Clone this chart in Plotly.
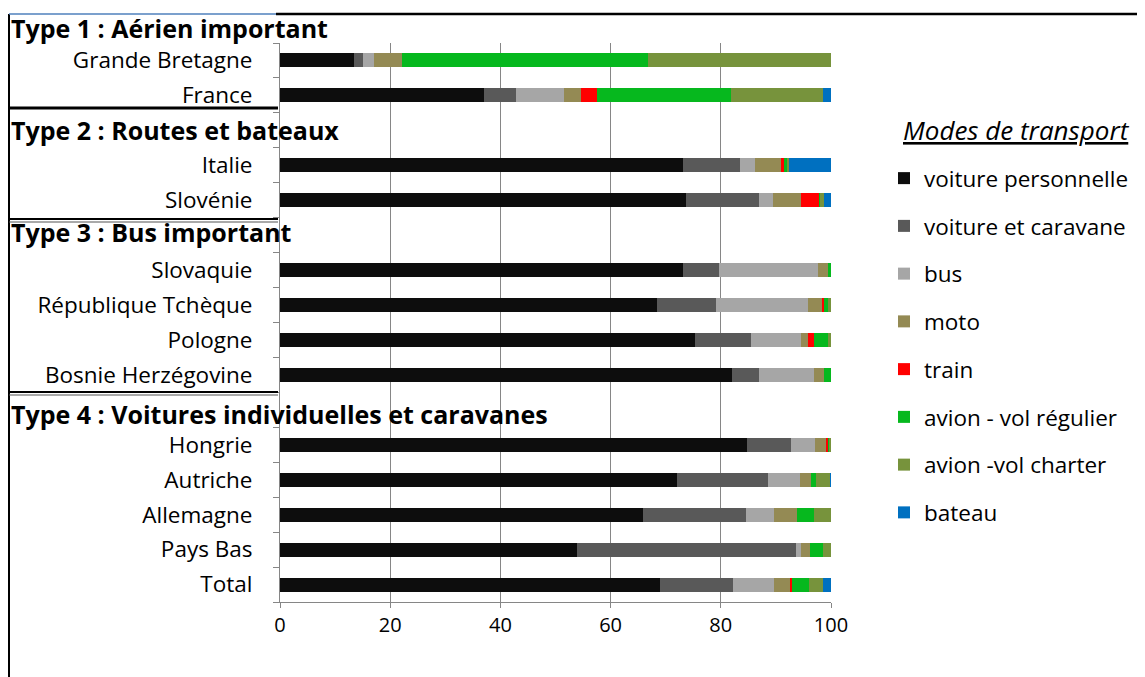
import plotly.graph_objects as go

# rows from top to bottom; header rows are empty slots between groups
countries = ["Grande Bretagne", "France", "Italie", "Slovénie", "Slovaquie",
             "République Tchèque", "Pologne", "Bosnie Herzégovine", "Hongrie",
             "Autriche", "Allemagne", "Pays Bas", "Total"]
groups = ["Type 1 : Aérien important", "Type 2 : Routes et bateaux",
          "Type 3 : Bus important", "Type 4 : Voitures individuelles et caravanes"]
group_sizes = [2, 2, 4, 5]

modes = ["voiture personnelle", "voiture et caravane", "bus", "moto", "train",
         "avion - vol régulier", "avion -vol charter", "bateau"]
voiture_perso = [13.5, 37.1, 73.1, 73.7, 73.1, 68.5, 75.3, 82.0, 84.7, 72.1, 65.8, 53.9, 68.9]
caravane = [1.6, 5.7, 10.4, 13.3, 6.5, 10.7, 10.2, 4.9, 8.1, 16.5, 18.7, 39.8, 13.4]
bus = [1.9, 8.7, 2.7, 2.5, 18.1, 16.6, 9.0, 10.1, 4.3, 5.8, 5.1, 0.8, 7.3]
moto = [5.2, 3.2, 4.8, 5.1, 1.8, 2.7, 1.3, 1.7, 2.1, 1.9, 4.2, 1.7, 3.1]
train = [0, 2.8, 0.4, 3.3, 0, 0.2, 1.1, 0, 0.3, 0, 0, 0, 0.3]
vol_regulier = [44.6, 24.3, 0.6, 0.1, 0.5, 0.8, 2.5, 1.3, 0.3, 0.9, 3.1, 2.3, 3.0]
vol_charter = [33.2, 16.7, 0.4, 0.7, 0, 0.5, 0.6, 0, 0.2, 2.7, 3.1, 1.5, 2.6]
bateau = [0, 1.5, 7.6, 1.3, 0, 0, 0, 0, 0, 0.1, 0, 0, 1.4]
series = [voiture_perso, caravane, bus, moto, train, vol_regulier, vol_charter, bateau]
colors = ["#0d0d0d", "#595959", "#a6a6a6", "#948a54", "#ff0000",
          "#06b81e", "#77933c", "#0070c0"]
x_ticks = [0, 20, 40, 60, 80, 100]

# build category list with blank header slots (not for the first group)
rows, labels, idx = [], [], 0
for g, n in enumerate(group_sizes):
    if g > 0:
        rows.append("_hdr%d" % g)
        labels.append("")
    for c in countries[idx:idx + n]:
        rows.append(c)
        labels.append(c)
    idx += n


def expand(vals):
    out, k = [], 0
    for r in rows:
        if r.startswith("_hdr"):
            out.append(None)
        else:
            out.append(vals[k])
            k += 1
    return out


FONT = "Open Sans"
OFF = 8  # page body margin
W, H = 1145 - OFF, 677 - OFF
# plot area in page pixels
L, R, T, B = 280, 831, 43, 602


def fx(p):
    return (p - L) / (R - L)


def fy(p):
    return (B - p) / (B - T)


fig = go.Figure()
for name, vals, col in zip(modes, series, colors):
    fig.add_trace(go.Bar(
        y=rows, x=expand(vals), name=name, orientation="h",
        marker=dict(color=col, line=dict(width=0)),
        width=0.4, legendgroup=name,
    ))

shapes = []


def line(x0, y0, x1, y1, color="black", width=2):
    shapes.append(dict(type="line", xref="paper", yref="paper",
                       x0=fx(x0), x1=fx(x1), y0=fy(y0), y1=fy(y1),
                       line=dict(color=color, width=width)))


line(9, 14, 9, 677, width=2)
line(9, 14, 276, 14, color="#4f81bd", width=1.5)
line(276, 14, 1145, 14, width=2.5)
line(9, 108, 278, 108, width=3)
line(9, 219, 278, 219, width=2)
line(9, 222, 278, 222, color="#555555", width=1)
line(9, 392, 278, 392, width=2)
line(9, 395, 278, 395, color="#555555", width=1)

annotations = []
for text, ypix in zip(groups, [28, 130, 232, 414]):
    annotations.append(dict(text="<b>" + text + "</b>", xref="paper", yref="paper",
                            x=fx(9), y=fy(ypix), xanchor="left", yanchor="middle",
                            showarrow=False, font=dict(family=FONT, size=25, color="black")))
annotations.append(dict(text="<i><u>Modes de transport</u></i>", xref="paper", yref="paper",
                        x=fx(901), y=fy(130), xanchor="left", yanchor="middle",
                        showarrow=False, font=dict(family=FONT, size=26, color="black")))

fig.update_layout(
    width=W, height=H,
    margin=dict(l=L - OFF, r=W - (R - OFF), t=T - OFF, b=H - (B - OFF), pad=0,
                autoexpand=False),
    barmode="stack",
    plot_bgcolor="white", paper_bgcolor="white",
    font=dict(family=FONT, size=20, color="black"),
    shapes=shapes, annotations=annotations,
    legend=dict(x=fx(884), y=fy(157), xanchor="left", yanchor="top",
                traceorder="grouped", tracegroupgap=15.5,
                font=dict(family=FONT, size=22.5, color="black"),
                bgcolor="rgba(0,0,0,0)"),
    xaxis=dict(range=[0, 100], tickvals=x_ticks, showgrid=True, gridcolor="#868686",
               gridwidth=1, zeroline=False, showline=True, linecolor="#868686",
               ticks="outside", ticklen=5, tickcolor="#868686",
               tickfont=dict(family=FONT, size=20, color="black")),
    yaxis=dict(categoryorder="array", categoryarray=rows, autorange="reversed",
               tickvals=rows, ticktext=labels, tickson="boundaries",
               ticks="outside", ticklen=6, tickcolor="#868686",
               showline=True, linecolor="#868686", showgrid=False,
               tickfont=dict(family=FONT, size=22.5, color="black"), ticklabelstandoff=22),
)

fig.write_html("out.html")
